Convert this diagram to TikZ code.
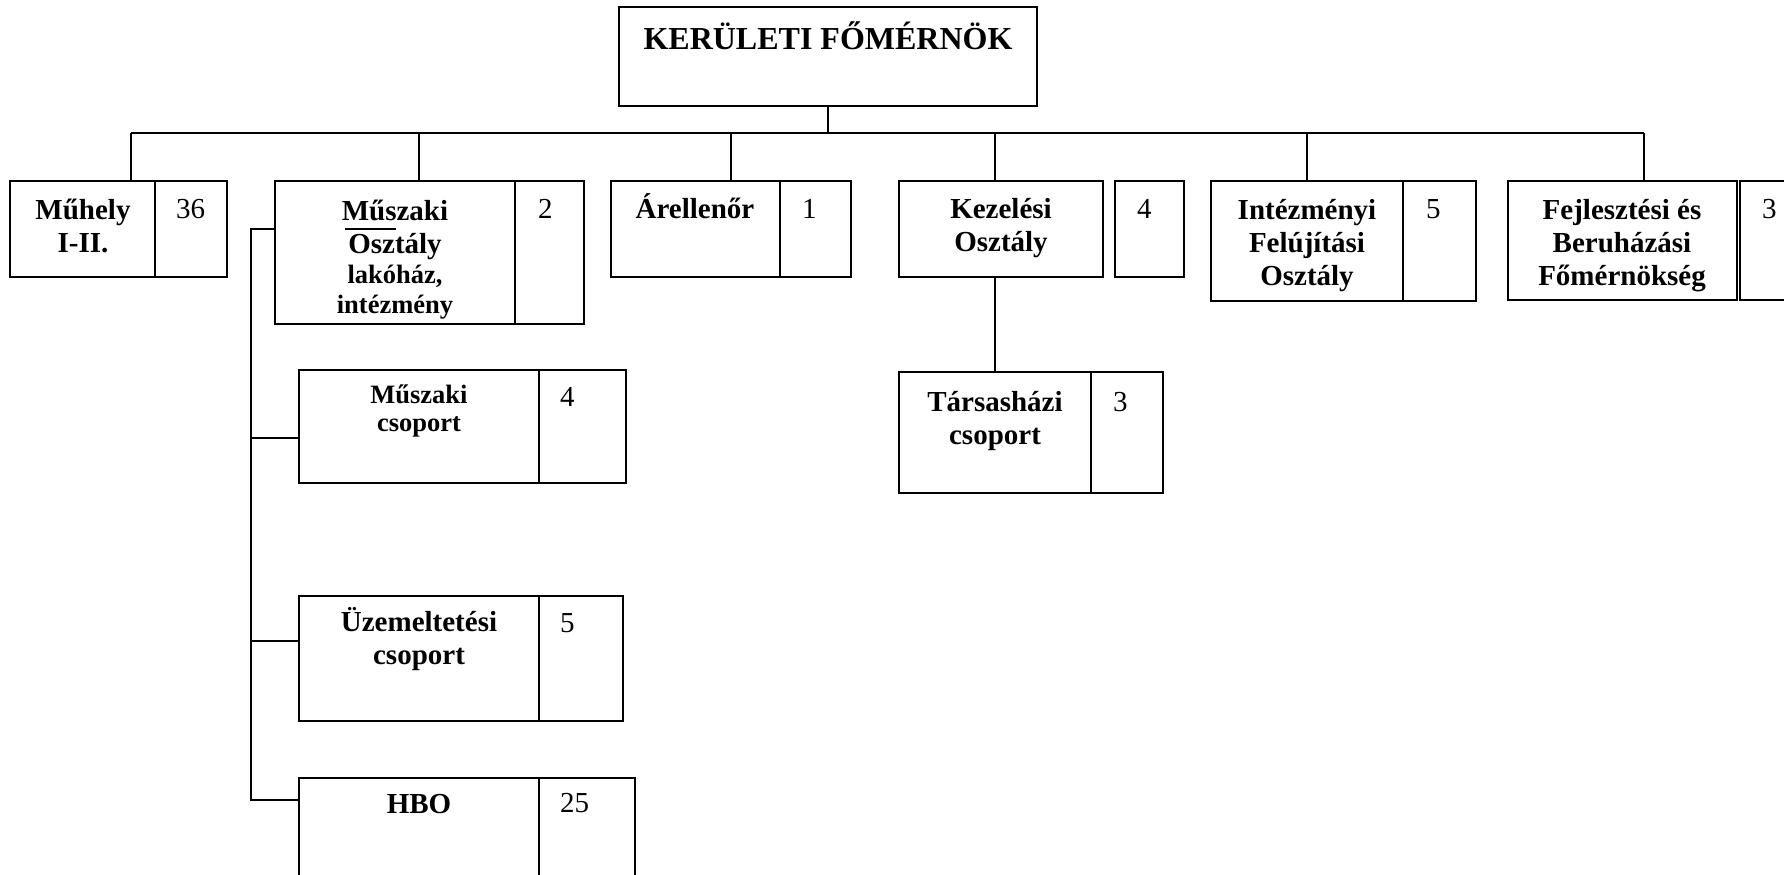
\documentclass[tikz,border=0pt]{standalone}
\usepackage{fontspec}
\setmainfont{Liberation Serif}
\usetikzlibrary{fit}
\begin{document}
\begin{tikzpicture}[x=0.5pt,y=-0.5pt, line width=1pt,
  cell/.style={draw, inner sep=0pt, line width=1pt},
  lbl/.style={font=\bfseries\fontsize{14.5}{16.5}\selectfont, align=center, inner sep=0pt, anchor=base},
  sml/.style={font=\bfseries\fontsize{13.25}{15}\selectfont, align=center, inner sep=0pt, anchor=base},
  smlb/.style={font=\bfseries\fontsize{13.25}{14}\selectfont, align=center, inner sep=0pt, anchor=base},
  num/.style={font=\fontsize{14.5}{16.5}\selectfont, inner sep=0pt, anchor=base west},
  ttl/.style={font=\bfseries\fontsize{16}{19}\selectfont, inner sep=0pt, anchor=base}]
\useasboundingbox (0,0) rectangle (1784,874);
\clip (0,0) rectangle (1784,874);
% boxes
\node[cell, fit={(619,7) (1037,106)}] (top) {};
\node[cell, fit={(10,181) (155,277)}] (muhely) {};
\node[cell, fit={(155,181) (227,277)}] (muhelyN) {};
\node[cell, fit={(275,181) (515,324)}] (muszOszt) {};
\node[cell, fit={(515,181) (584,324)}] (muszOsztN) {};
\node[cell, fit={(611,181) (780,277)}] (arell) {};
\node[cell, fit={(780,181) (851,277)}] (arellN) {};
\node[cell, fit={(899,181) (1103,277)}] (kez) {};
\node[cell, fit={(1115,181) (1184,277)}] (kezN) {};
\node[cell, fit={(1211,181) (1403,301)}] (intez) {};
\node[cell, fit={(1403,181) (1476,301)}] (intezN) {};
\node[cell, fit={(1508,181) (1737,300)}] (fejl) {};
\node[cell, fit={(1740,181) (1810,300)}] (fejlN) {};
\node[cell, fit={(299,370) (539,483)}] (muszCs) {};
\node[cell, fit={(539,370) (626,483)}] (muszCsN) {};
\node[cell, fit={(299,596) (539,721)}] (uzem) {};
\node[cell, fit={(539,596) (623,721)}] (uzemN) {};
\node[cell, fit={(299,778) (539,900)}] (hbo) {};
\node[cell, fit={(539,778) (635,900)}] (hboN) {};
\node[cell, fit={(899,372) (1091,493)}] (tars) {};
\node[cell, fit={(1091,372) (1163,493)}] (tarsN) {};
% connectors
\coordinate (busL) at (131,133);
\coordinate (d2) at (419,133);
\coordinate (d3) at (731,133);
\coordinate (d4) at (995,133);
\coordinate (d5) at (1307,133);
\coordinate (busR) at (1644,133);
\draw (top.south) -- (top.south |- busL);
\draw (busL) -- (busR);
\draw (busL) -- (busL |- muhely.north);
\draw (d2) -- (d2 |- muszOszt.north);
\draw (d3) -- (d3 |- arell.north);
\draw (d4) -- (d4 |- kez.north);
\draw (d5) -- (d5 |- intez.north);
\draw (busR) -- (busR |- fejl.north);
\draw (kez.south -| d4) -- (tars.north -| d4);
\coordinate (brTop) at (251,229);
\coordinate (b1) at (251,438);
\coordinate (b2) at (251,641);
\coordinate (brBot) at (251,800);
\draw (muszOszt.west |- brTop) -- (brTop) -- (brBot) -- (brBot -| hbo.west);
\draw (b1) -- (b1 -| muszCs.west);
\draw (b2) -- (b2 -| uzem.west);
\draw (345,229) -- (396,229);
% texts (multi-line nodes are placed at the baseline of their last line)
\node[ttl] (topT) at (828,49) {KERÜLETI FŐMÉRNÖK};
\node[lbl] (muhelyT) at (83,252) {Műhely\\I-II.};
\node[num] (muhelyV) at (175,218) {36};
\node[lbl] (muszOsztT) at (395,253) {Műszaki\\Osztály};
\node[sml] (muszOsztS) at (395,313) {lakóház,\\intézmény};
\node[num] (muszOsztV) at (537,218) {2};
\node[lbl] (arellT) at (695,218) {Árellenőr};
\node[num] (arellV) at (801,218) {1};
\node[lbl] (kezT) at (1001,251) {Kezelési\\Osztály};
\node[num] (kezV) at (1136,218) {4};
\node[lbl] (intezT) at (1307,285) {Intézményi\\Felújítási\\Osztály};
\node[num] (intezV) at (1425,218) {5};
\node[lbl] (fejlT) at (1622,285) {Fejlesztési és\\Beruházási\\Főmérnökség};
\node[num] (fejlV) at (1761,218) {3};
\node[smlb] (muszCsT) at (419,431) {Műszaki\\csoport};
\node[num] (muszCsV) at (559,406) {4};
\node[lbl] (uzemT) at (419,664) {Üzemeltetési\\csoport};
\node[num] (uzemV) at (559,632) {5};
\node[lbl] (hboT) at (419,813) {HBO};
\node[num] (hboV) at (559,812) {25};
\node[lbl] (tarsT) at (995,444) {Társasházi\\csoport};
\node[num] (tarsV) at (1112,411) {3};
\end{tikzpicture}
\end{document}
